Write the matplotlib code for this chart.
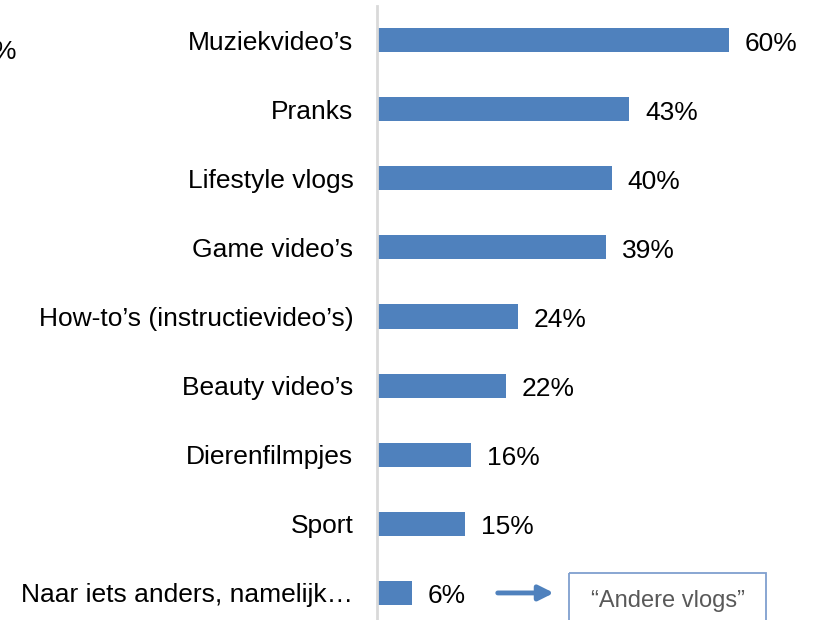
import matplotlib.pyplot as plt
from matplotlib.patches import Rectangle

plt.rcParams['font.family'] = ['Liberation Sans', 'DejaVu Sans']

categories = ['Muziekvideo\u2019s', 'Pranks', 'Lifestyle vlogs', 'Game video\u2019s',
              'How-to\u2019s (instructievideo\u2019s)', 'Beauty video\u2019s',
              'Dierenfilmpjes', 'Sport', 'Naar iets anders, namelijk\u2026']
values = [60, 43, 40, 39, 24, 22, 16, 15, 6]
value_labels = ['{}%'.format(v) for v in values]
note = '\u201cAndere vlogs\u201d'

blue = '#4F81BD'

fig = plt.figure(figsize=(8.13, 6.2), dpi=100)
ax = fig.add_axes([377 / 813, 1 - 627.5 / 620, 436 / 813, 622 / 620])

ys = list(range(len(categories)))
ax.barh(ys, values, height=0.35, color=blue)
ax.set_xlim(0, 436 / 5.87)
ax.set_ylim(len(categories) - 0.5, -0.5)

ax.set_yticks(ys)
ax.set_yticklabels(categories, fontsize=19)
ax.tick_params(axis='y', length=0, pad=17)
ax.set_xticks([])
for s in ['top', 'right', 'bottom']:
    ax.spines[s].set_visible(False)
ax.spines['left'].set_color('#D9D9D9')
ax.spines['left'].set_linewidth(2)

for y, v, lab in zip(ys, values, value_labels):
    ax.text(v + 2.7, y + 0.05, lab, va='center', ha='left', fontsize=19)

# arrow and box for the last row
last = len(categories) - 1
ax.annotate('', xy=(30.6, last), xytext=(20.1, last),
            arrowprops=dict(arrowstyle='-|>', color=blue, lw=3.5, mutation_scale=22),
            annotation_clip=False)
ax.add_patch(Rectangle((32.7, last - 0.29), 33.6, 1.0, fill=False,
                       edgecolor='#7F9FCF', lw=1.3, clip_on=False))
ax.text(49.5, last + 0.12, note, ha='center', va='center', fontsize=17, color='#595959')

fig.text(-0.008, 1 - 52 / 620, '%', fontsize=19, ha='left', va='center')

fig.savefig('out.png', dpi=100)
